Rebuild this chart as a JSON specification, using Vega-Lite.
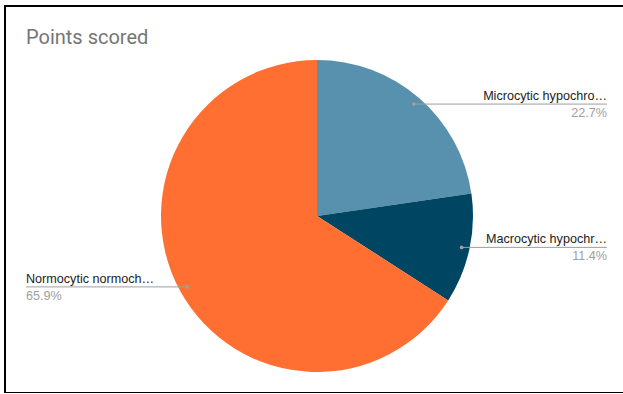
{
  "$schema": "https://vega.github.io/schema/vega-lite/v6.json",
  "width": 625,
  "height": 387,
  "autosize": "none",
  "padding": {"left": 5, "top": 6, "right": 0, "bottom": 0},
  "background": "#ffffff",
  "title": {
    "text": "Points scored",
    "anchor": "start",
    "frame": "group",
    "offset": 0,
    "dx": 21,
    "dy": 58,
    "baseline": "alphabetic",
    "font": "Roboto",
    "fontSize": 20,
    "fontWeight": "normal",
    "color": "#757575"
  },
  "config": {
    "view": {"stroke": "#000000", "strokeWidth": 2},
    "font": "Liberation Sans"
  },
  "data": {
    "values": [
      {"label": "Microcytic hypochro…", "value": 22.7, "order": 1},
      {"label": "Macrocytic  hypochr…", "value": 11.4, "order": 2},
      {"label": "Normocytic normoch…", "value": 65.9, "order": 3}
    ]
  },
  "transform": [
    {"joinaggregate": [{"op": "sum", "field": "value", "as": "total"}]},
    {"window": [{"op": "sum", "field": "value", "as": "cum"}], "sort": [{"field": "order"}], "frame": [null, 0]},
    {"calculate": "datum.value / datum.total", "as": "pct"},
    {"calculate": "2 * PI * (datum.cum - datum.value / 2) / datum.total", "as": "mid"},
    {"calculate": "148 * sin(datum.mid)", "as": "px"},
    {"calculate": "148 * cos(datum.mid)", "as": "py"},
    {"calculate": "datum.px > 0 ? 290 : -291", "as": "lx"}
  ],
  "layer": [
    {
      "mark": {"type": "arc", "outerRadius": 156, "innerRadius": 0},
      "encoding": {
        "x": {"datum": 0, "type": "quantitative", "scale": {"domain": [-312, 313], "nice": false, "zero": false}, "axis": null},
        "y": {"datum": 0, "type": "quantitative", "scale": {"domain": [-177, 210], "nice": false, "zero": false}, "axis": null},
        "theta": {"field": "value", "type": "quantitative", "stack": true},
        "order": {"field": "order", "type": "quantitative"},
        "color": {
          "field": "label",
          "type": "nominal",
          "scale": {
            "domain": ["Microcytic hypochro…", "Macrocytic  hypochr…", "Normocytic normoch…"],
            "range": ["#5891AD", "#004561", "#FF6F31"]
          },
          "legend": null
        }
      }
    },
    {
      "mark": {"type": "rule", "color": "#9e9e9e", "strokeWidth": 1},
      "encoding": {
        "x": {"field": "px", "type": "quantitative"},
        "x2": {"field": "lx"},
        "y": {"field": "py", "type": "quantitative"}
      }
    },
    {
      "mark": {"type": "point", "filled": true, "color": "#9e9e9e", "size": 14, "opacity": 1},
      "encoding": {
        "x": {"field": "px", "type": "quantitative"},
        "y": {"field": "py", "type": "quantitative"}
      }
    },
    {
      "mark": {"type": "text", "font": "Liberation Sans", "fontSize": 12.6, "color": "#222222", "baseline": "alphabetic", "dy": -4, "align": {"expr": "datum.lx > 0 ? 'right' : 'left'"}},
      "encoding": {
        "x": {"field": "lx", "type": "quantitative"},
        "y": {"field": "py", "type": "quantitative"},
        "text": {"field": "label"}
      }
    },
    {
      "mark": {"type": "text", "font": "Liberation Sans", "fontSize": 12.6, "color": "#9e9e9e", "baseline": "alphabetic", "dy": 13, "align": {"expr": "datum.lx > 0 ? 'right' : 'left'"}},
      "encoding": {
        "x": {"field": "lx", "type": "quantitative"},
        "y": {"field": "py", "type": "quantitative"},
        "text": {"field": "pct", "type": "quantitative", "format": ".1%"}
      }
    }
  ]
}
